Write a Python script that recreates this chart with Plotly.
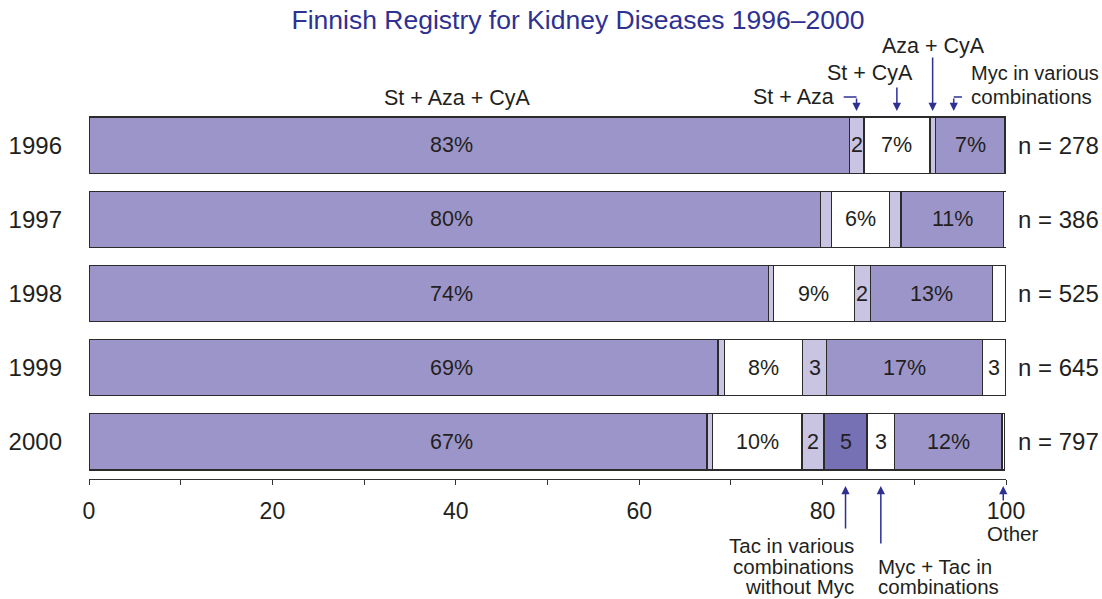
import plotly.graph_objects as go

# ---------------- data ----------------
years = ["1996", "1997", "1998", "1999", "2000"]
n_patients = [278, 386, 525, 645, 797]

series_names = ["St + Aza + CyA", "St + Aza", "St + CyA", "Aza + CyA",
                "Tac in various combinations without Myc",
                "Myc + Tac in combinations",
                "Myc in various combinations", "Other"]

st_aza_cya = [82.9, 79.8, 74.1, 68.6, 67.4]
st_aza = [1.6, 1.2, 0.55, 0.73, 0.6]
st_cya = [7.2, 6.3, 8.8, 8.5, 9.75]
aza_cya = [0.6, 1.25, 1.8, 2.6, 2.4]
tac = [None, None, None, None, 4.7]
myc_tac = [None, None, None, None, 3.0]
myc = [7.6, 11.2, 13.25, 17.0, 11.7]
other = [None, 0.3, 1.46, 2.55, 0.3]

lab_st_aza_cya = ["83%", "80%", "74%", "69%", "67%"]
lab_st_aza = ["2", "", "", "", ""]
lab_st_cya = ["7%", "6%", "9%", "8%", "10%"]
lab_aza_cya = ["", "", "2", "3", "2"]
lab_tac = ["", "", "", "", "5"]
lab_myc_tac = ["", "", "", "", "3"]
lab_myc = ["7%", "11%", "13%", "17%", "12%"]
lab_other = ["", "", "", "3", ""]

x_ticks = [0, 10, 20, 30, 40, 50, 60, 70, 80, 90, 100]
x_ticktext = ["0", "", "20", "", "40", "", "60", "", "80", "", "100"]

# ---------------- style ----------------
MAIN = "#9c95c9"
LIGHT = "#c8c4e2"
DARK = "#7670b4"
WHITE = "#ffffff"
EDGE = "#2b2b2b"
TXT = "#231f20"
NAVY = "#2e3192"
FONT = "Liberation Sans, Arial, Helvetica, sans-serif"

all_series = [st_aza_cya, st_aza, st_cya, aza_cya, tac, myc_tac, myc, other]
all_labels = [lab_st_aza_cya, lab_st_aza, lab_st_cya, lab_aza_cya,
              lab_tac, lab_myc_tac, lab_myc, lab_other]
colors = [MAIN, LIGHT, WHITE, LIGHT, DARK, WHITE, MAIN, WHITE]

W, H = 1102, 599
X0, X1 = 89, 1006     # plot area left / right (px)
Y0, Y1 = 108, 479     # plot area top / bottom (px)
L, T, R, B = X0, Y0, W - X1, H - Y1
plot_w, plot_h = X1 - X0, Y1 - Y0


def py(pix):
    """pixel y (from top) -> paper y"""
    return (Y1 - pix) / plot_h


def pxp(pix):
    """pixel x -> paper x"""
    return (pix - X0) / plot_w


fig = go.Figure()
for name, vals, col in zip(series_names, all_series, colors):
    fig.add_trace(go.Bar(
        y=years, x=vals, name=name, orientation="h",
        marker=dict(color=col, line=dict(color=EDGE, width=1.3)),
        width=0.757, showlegend=False, hoverinfo="x+name",
    ))

annotations = []

# segment labels (computed from cumulative data)
cum = [0.0] * len(years)
for si, (vals, labs) in enumerate(zip(all_series, all_labels)):
    for i, (v, lab) in enumerate(zip(vals, labs)):
        v = v or 0.0
        if lab:
            xm = 39.5 if si == 0 else cum[i] + v / 2
            annotations.append(dict(x=xm, y=i, xref="x", yref="y", text=lab,
                                    showarrow=False,
                                    font=dict(size=21.5, color=TXT, family=FONT)))
        cum[i] += v

# n = labels
for i, n in enumerate(n_patients):
    annotations.append(dict(x=pxp(1016), y=i, xref="paper", yref="y",
                            text=f"n = {n}", xanchor="left", showarrow=False,
                            font=dict(size=24, color=TXT, family=FONT)))


def label(text, xpix, ypix, anchor="center", size=21.5):
    annotations.append(dict(x=pxp(xpix), y=py(ypix), xref="paper", yref="paper",
                            text=text, xanchor=anchor, yanchor="middle",
                            showarrow=False,
                            font=dict(size=size, color=TXT, family=FONT)))


def arrow(x, tip_pix, tail_pix):
    annotations.append(dict(x=x, y=py(tip_pix), xref="x", yref="paper",
                            ax=0, ay=tail_pix - tip_pix, axref="pixel", ayref="pixel",
                            text="", showarrow=True, arrowhead=2, arrowsize=1.1,
                            arrowwidth=1.5, arrowcolor=NAVY, standoff=0,
                            startstandoff=0))


# 1996 cumulative positions
c0 = st_aza_cya[0]
mid_st_aza = c0 + st_aza[0] / 2
mid_st_cya = c0 + st_aza[0] + st_cya[0] / 2
mid_aza_cya = c0 + st_aza[0] + st_cya[0] + aza_cya[0] / 2
myc_start = c0 + st_aza[0] + st_cya[0] + aza_cya[0]
myc_arrow_x = myc_start + 2.0

# 2000 cumulative positions
c4 = st_aza_cya[4] + st_aza[4] + st_cya[4] + aza_cya[4]
mid_tac = c4 + tac[4] / 2
mid_myc_tac = c4 + tac[4] + myc_tac[4] / 2
mid_other = c4 + tac[4] + myc_tac[4] + myc[4] + other[4] / 2

# top labels
label("St + Aza + CyA", 457, 98)
label("St + Aza", 836, 97, "right")
label("St + CyA", 870, 73)
label("Aza + CyA", 933, 46)
label("Myc in various", 969, 73, "left", 20)
label("combinations", 969, 96, "left", 20.5)

arrow(mid_st_aza, 111, 97)
arrow(mid_st_cya, 111, 86)
arrow(mid_aza_cya, 111, 56)
arrow(myc_arrow_x, 111, 97)

shapes = [
    dict(type="line", xref="x", yref="paper", x0=mid_st_aza - 1.4, x1=mid_st_aza,
         y0=py(97), y1=py(97), line=dict(color=NAVY, width=1.5)),
    dict(type="line", xref="x", yref="paper", x0=myc_arrow_x, x1=myc_arrow_x + 0.9,
         y0=py(97), y1=py(97), line=dict(color=NAVY, width=1.5)),
]

# bottom labels
label("Tac in various", 856, 545, "right", 20.5)
label("combinations", 856, 566, "right", 20.5)
label("without Myc", 856, 586, "right", 20.5)
label("Myc + Tac in", 876, 566, "left", 20.5)
label("combinations", 876, 586, "left", 20.5)
label("Other", 1013, 533, "center", 20.5)
arrow(mid_tac, 486, 530)
arrow(mid_myc_tac, 486, 545)
arrow(mid_other, 486, 502)

fig.update_layout(
    barmode="stack",
    width=W, height=H, autosize=False,
    margin=dict(l=L, r=R, t=T, b=B, pad=0, autoexpand=False),
    paper_bgcolor="white", plot_bgcolor="white",
    font=dict(family=FONT, color=TXT, size=21),
    title=dict(text="Finnish Registry for Kidney Diseases 1996–2000",
               x=pxp(578), xref="paper", xanchor="center",
               y=1 - 20 / H, yref="container", yanchor="middle",
               font=dict(size=26.5, color=NAVY, family=FONT)),
    xaxis=dict(range=[0, 100], tickvals=x_ticks, ticktext=x_ticktext,
               ticks="outside", ticklen=5, tickwidth=1.2, tickcolor="#333",
               showline=True, linecolor="#333", linewidth=1.2,
               showgrid=False, zeroline=False, automargin=False,
               tickfont=dict(size=23, color=TXT, family=FONT),
               ticklabelstandoff=6, fixedrange=True),
    yaxis=dict(type="category", categoryorder="array", categoryarray=years,
               autorange="reversed", showline=False, showgrid=False,
               zeroline=False, ticks="", ticklabelstandoff=26, automargin=False,
               tickfont=dict(size=24, color=TXT, family=FONT), fixedrange=True),
    annotations=annotations,
    shapes=shapes,
)

fig.write_html(
    "out.html",
    config={"displayModeBar": False},
    post_script="document.body.style.margin='0';document.body.style.overflow='hidden';",
)
